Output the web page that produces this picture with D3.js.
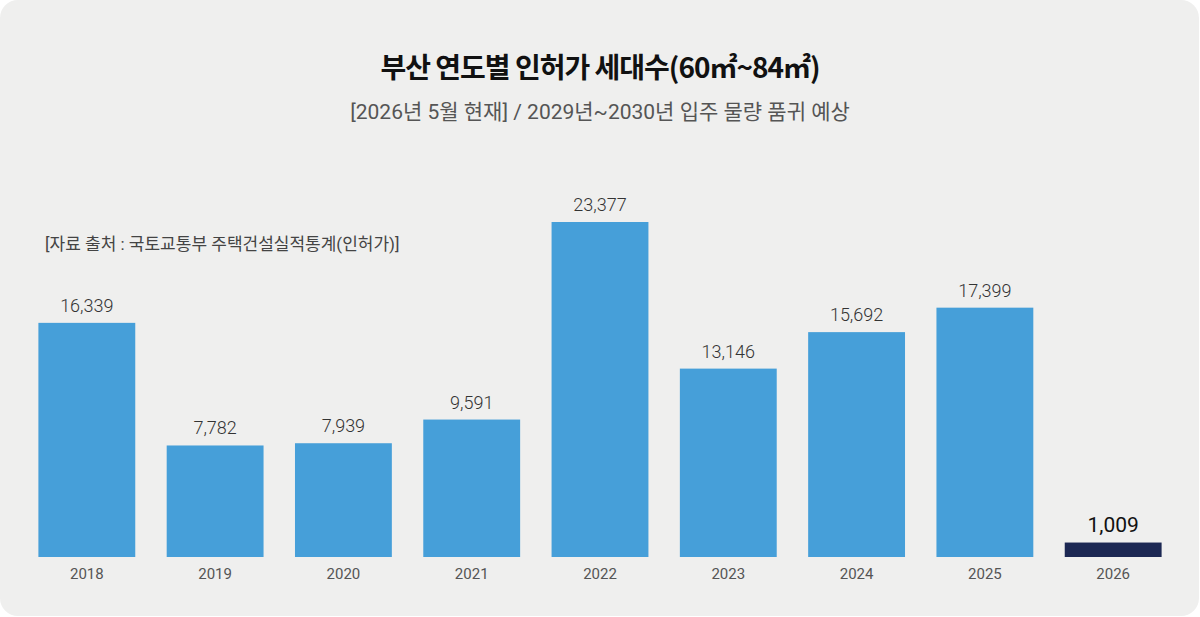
<!DOCTYPE html>
<html>
<head>
<meta charset="utf-8">
<script src="https://cdn.jsdelivr.net/npm/d3@7"></script>
<style>
  body { margin: 0; background: #fff; }
  svg text { font-family: Roboto, "Noto Sans CJK KR", sans-serif; }
</style>
</head>
<body>
<svg id="chart" width="1200" height="617"></svg>
<script>
// 부산 연도별 인허가 세대수 (60㎡~84㎡)
var years = ['2018', '2019', '2020', '2021', '2022', '2023', '2024', '2025', '2026'];
var units = [16339, 7782, 7939, 9591, 23377, 13146, 15692, 17399, 1009];
var highlight = ['2026'];

var svg = d3.select('#chart');

svg.append('rect')
	.attr('x', 0).attr('y', 0)
	.attr('width', 1199).attr('height', 616)
	.attr('rx', 18).attr('ry', 18)
	.attr('fill', '#efefee');

var x = d3.scaleBand()
	.domain(years)
	.range([23, 1177])
	.paddingInner(0.245)
	.paddingOuter(0.12);

var y = d3.scaleLinear()
	.domain([0, d3.max(units)])
	.range([557, 222]);

var data = years.map(function(d, i) { return {year: d, value: units[i]}; });

svg.selectAll('.bar')
	.data(data)
	.enter().append('rect')
	.attr('class', 'bar')
	.attr('x', function(d) { return x(d.year); })
	.attr('y', function(d) { return y(d.value); })
	.attr('width', x.bandwidth())
	.attr('height', function(d) { return y(0) - y(d.value); })
	.attr('fill', function(d) { return highlight.indexOf(d.year) > -1 ? '#1c2853' : '#469fd9'; });

svg.selectAll('.val')
	.data(data)
	.enter().append('text')
	.attr('class', 'val')
	.attr('x', function(d) { return x(d.year) + x.bandwidth() / 2; })
	.attr('y', function(d) { return y(d.value) - 11; })
	.attr('text-anchor', 'middle')
	.attr('font-size', function(d) { return highlight.indexOf(d.year) > -1 ? 21 : 18; })
	.attr('font-weight', function(d) { return highlight.indexOf(d.year) > -1 ? 400 : 300; })
	.attr('fill', function(d) { return highlight.indexOf(d.year) > -1 ? '#111' : '#333'; })
	.text(function(d) { return d3.format(',')(d.value); });

var xAxis = svg.append('g')
	.attr('transform', 'translate(0,557)')
	.call(d3.axisBottom(x).tickSize(0).tickPadding(11));

xAxis.select('.domain').remove();
xAxis.selectAll('text')
	.attr('font-size', 15)
	.attr('fill', '#555')
	.style('font-family', 'Roboto, sans-serif');

svg.append('text')
	.attr('x', 600).attr('y', 78)
	.attr('text-anchor', 'middle')
	.attr('font-size', 28)
	.attr('font-weight', 'bold')
	.attr('letter-spacing', -1)
	.attr('fill', '#111')
	.style('font-family', '"Noto Sans CJK KR", sans-serif')
	.text('부산 연도별 인허가 세대수(60㎡~84㎡)');

svg.append('text')
	.attr('x', 600).attr('y', 119)
	.attr('text-anchor', 'middle')
	.attr('font-size', 21)
	.attr('fill', '#555')
	.text('[2026년 5월 현재] / 2029년~2030년 입주 물량 품귀 예상');

svg.append('text')
	.attr('x', 45).attr('y', 250)
	.attr('font-size', 17)
	.attr('fill', '#444')
	.text('[자료 출처 : 국토교통부 주택건설실적통계(인허가)]');
</script>
</body>
</html>
